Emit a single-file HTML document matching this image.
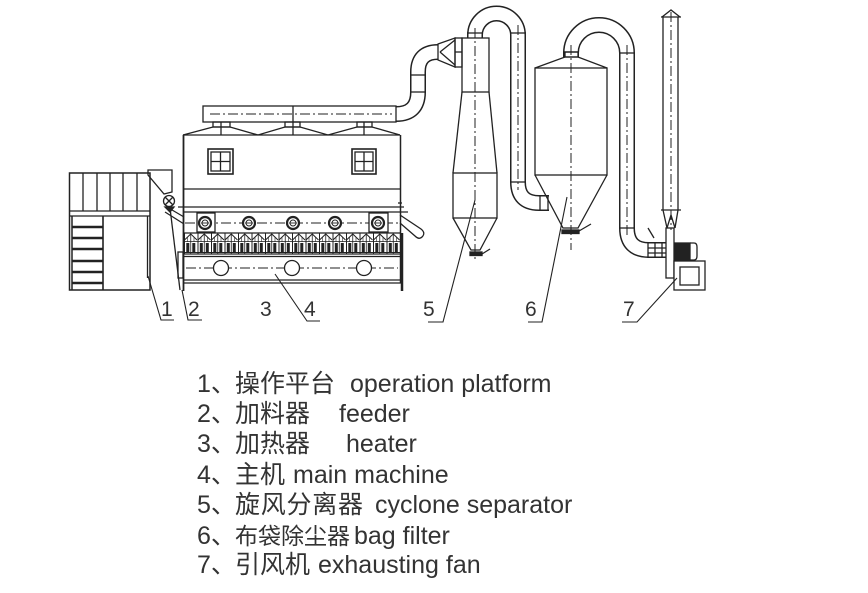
<!DOCTYPE html>
<html><head><meta charset="utf-8">
<style>
html,body{margin:0;padding:0;background:#fff;}
svg{display:block}
</style></head><body>
<svg width="868" height="593" viewBox="0 0 868 593" xmlns="http://www.w3.org/2000/svg">
<defs>
<pattern id="band" patternUnits="userSpaceOnUse" x="184" y="233" width="13.5" height="21">
 <polyline points="0.5,7 6.75,1 13,7" fill="none" stroke="#222" stroke-width="1"/>
 <line x1="0.5" y1="0" x2="0.5" y2="21" stroke="#222" stroke-width="1"/>
 <line x1="6.75" y1="1" x2="6.75" y2="21" stroke="#222" stroke-width="0.8"/>
 <line x1="3.5" y1="4" x2="3.5" y2="9" stroke="#222" stroke-width="0.6"/>
 <line x1="10" y1="4" x2="10" y2="9" stroke="#222" stroke-width="0.6"/>
 <line x1="0" y1="8.5" x2="13.5" y2="8.5" stroke="#222" stroke-width="0.8"/>
 <rect x="2.3" y="10" width="3" height="9" fill="#222"/>
 <rect x="8.3" y="10" width="3" height="9" fill="#222"/>
 <line x1="0" y1="19.5" x2="13.5" y2="19.5" stroke="#222" stroke-width="1"/>
</pattern>
</defs>

<!-- PIPES (double-line trick) -->
<g fill="none" stroke-linecap="butt">
 <path d="M396 114 Q418 114 418 92 L418 72 Q418 52 438 52" stroke="#222" stroke-width="16"/>
 <path d="M396 114 Q418 114 418 92 L418 72 Q418 52 438 52" stroke="#fff" stroke-width="13"/>
 <path d="M475 38 L475 35 A21.5 21.5 0 0 1 518 35 L518 182 Q518 203 539 203 L549 203" stroke="#222" stroke-width="16"/>
 <path d="M475 38 L475 35 A21.5 21.5 0 0 1 518 35 L518 182 Q518 203 539 203 L549 203" stroke="#fff" stroke-width="13"/>
 <path d="M571 57 L571 53 A28 28 0 0 1 627 53 L627 228 Q627 250 649 250 L666 250" stroke="#222" stroke-width="16"/>
 <path d="M571 57 L571 53 A28 28 0 0 1 627 53 L627 228 Q627 250 649 250 L666 250" stroke="#fff" stroke-width="13"/>
</g>

<g fill="none" stroke="#222" stroke-width="1.3">
 <!-- pipe joints -->
 <line x1="410" y1="75" x2="426" y2="75"/>
 <line x1="410" y1="92" x2="426" y2="92"/>
 <line x1="467" y1="33" x2="483" y2="33"/>
 <line x1="510" y1="33" x2="526" y2="33"/>
 <line x1="510" y1="182" x2="526" y2="182"/>
 <line x1="540" y1="195" x2="540" y2="211"/>
 <line x1="548" y1="195" x2="548" y2="211"/>
 <line x1="563" y1="52" x2="579" y2="52"/>
 <line x1="619" y1="53" x2="635" y2="53"/>
 <line x1="619" y1="228" x2="635" y2="228"/>
 <line x1="648" y1="242" x2="648" y2="258"/>
 <line x1="655" y1="242" x2="655" y2="258"/>
 <line x1="662" y1="242" x2="662" y2="258"/>
 <line x1="648" y1="248" x2="666" y2="248"/>
 <line x1="648" y1="253" x2="666" y2="253"/>
 <line x1="648" y1="228" x2="654" y2="238"/>

 <!-- PLATFORM -->
 <rect x="69.5" y="173" width="80.5" height="117" stroke-width="1.5"/>
 <line x1="72" y1="216" x2="72" y2="290" stroke-width="1.5"/>
 <line x1="83" y1="173" x2="83" y2="211"/>
 <line x1="97" y1="173" x2="97" y2="211"/>
 <line x1="110" y1="173" x2="110" y2="211"/>
 <line x1="123" y1="173" x2="123" y2="211"/>
 <line x1="137" y1="173" x2="137" y2="211"/>
 <line x1="69" y1="211" x2="150" y2="211"/>
 <line x1="69" y1="216" x2="150" y2="216"/>
 <line x1="103" y1="216" x2="103" y2="290" stroke-width="1.6"/>
 <g stroke-width="2.6">
  <line x1="72" y1="227" x2="103" y2="227"/>
  <line x1="72" y1="238" x2="103" y2="238"/>
  <line x1="72" y1="249" x2="103" y2="249"/>
  <line x1="72" y1="261" x2="103" y2="261"/>
  <line x1="72" y1="272" x2="103" y2="272"/>
  <line x1="72" y1="283" x2="103" y2="283"/>
 </g>
 <line x1="147.5" y1="216" x2="147.5" y2="278"/>

 <!-- FEEDER -->
 <path d="M148 170 L172 170 L172 192 L164 194 L148 175 Z"/>
 <circle cx="169" cy="201" r="5.5"/>
 <line x1="165" y1="197" x2="173" y2="205"/>
 <line x1="173" y1="197" x2="165" y2="205"/>
 <path d="M165 207 L174 207 L170 212 Z" fill="#222"/>
 <line x1="167" y1="207" x2="184" y2="217"/>
 <line x1="165" y1="212" x2="184" y2="224"/>
 <line x1="170" y1="208" x2="180" y2="290"/>
 <rect x="178" y="252" width="5" height="26"/>

 <!-- MAIN DUCT -->
 <rect x="203" y="106" width="193" height="16" fill="#fff"/>
 <line x1="293" y1="106" x2="293" y2="122"/>
 <line x1="210" y1="114" x2="392" y2="114" stroke-width="1" stroke-dasharray="10 3 2 3"/>
 <!-- connectors and roof -->
 <rect x="213" y="122" width="17" height="5"/>
 <rect x="285" y="122" width="15" height="5"/>
 <rect x="357" y="122" width="15" height="5"/>
 <polyline points="183,135 213,127 230,127 258,135 285,127 300,127 328,135 357,127 372,127 400,135"/>
 <line x1="221" y1="122" x2="221" y2="135"/>
 <line x1="293" y1="122" x2="293" y2="135"/>
 <line x1="364" y1="122" x2="364" y2="135"/>

 <!-- BODY -->
 <line x1="183" y1="135" x2="400" y2="135"/>
 <line x1="183.5" y1="135" x2="183.5" y2="291" stroke-width="1.8"/>
 <line x1="400.5" y1="135" x2="400.5" y2="283" stroke-width="1.5"/>
 <line x1="402" y1="233" x2="402" y2="291" stroke-width="2.5"/>
 <line x1="183" y1="189" x2="400" y2="189"/>
 <line x1="178" y1="207" x2="404" y2="207"/>
 <line x1="183" y1="212" x2="408" y2="212"/>
 <!-- windows -->
 <rect x="208" y="149" width="25" height="25" stroke-width="1.6"/>
 <rect x="211" y="152" width="19" height="19"/>
 <line x1="220.5" y1="152" x2="220.5" y2="171"/>
 <line x1="211" y1="161.5" x2="230" y2="161.5"/>
 <rect x="352" y="149" width="24" height="25" stroke-width="1.6"/>
 <rect x="355" y="152" width="18" height="19"/>
 <line x1="364" y1="152" x2="364" y2="171"/>
 <line x1="355" y1="161.5" x2="373" y2="161.5"/>
 <!-- heater row -->
 <line x1="185" y1="223" x2="398" y2="223" stroke-width="1" stroke-dasharray="10 3 2 3"/>
 <rect x="197" y="213" width="18" height="19" fill="#fff"/>
 <rect x="369" y="213" width="19" height="19" fill="#fff"/>
 <g stroke-width="2.2">
  <circle cx="205" cy="223" r="6" fill="#fff"/>
  <circle cx="249" cy="223" r="6" fill="#fff"/>
  <circle cx="293" cy="223" r="6" fill="#fff"/>
  <circle cx="335" cy="223" r="6" fill="#fff"/>
  <circle cx="378" cy="223" r="6" fill="#fff"/>
 </g>
 <g stroke-width="0.9">
  <circle cx="205" cy="223" r="3"/><circle cx="249" cy="223" r="3"/><circle cx="293" cy="223" r="3"/><circle cx="335" cy="223" r="3"/><circle cx="378" cy="223" r="3"/>
  <line x1="201" y1="223" x2="209" y2="223"/><line x1="245" y1="223" x2="253" y2="223"/><line x1="289" y1="223" x2="297" y2="223"/><line x1="331" y1="223" x2="339" y2="223"/><line x1="374" y1="223" x2="382" y2="223"/>
 </g>
 <!-- band -->
 <rect x="184" y="233" width="216" height="21" fill="url(#band)" stroke="none"/>
 <line x1="183" y1="233" x2="401" y2="233"/>
 <line x1="183" y1="254" x2="401" y2="254"/>
 <line x1="183" y1="256.5" x2="401" y2="256.5"/>
 <!-- lower -->
 <line x1="186" y1="268" x2="398" y2="268" stroke-width="1" stroke-dasharray="10 3 2 3"/>
 <circle cx="221" cy="268" r="7.5" fill="#fff"/>
 <circle cx="292" cy="268" r="7.5" fill="#fff"/>
 <circle cx="364" cy="268" r="7.5" fill="#fff"/>
 <line x1="183" y1="280" x2="401" y2="280"/>
 <line x1="183" y1="283" x2="401" y2="283"/>
 <!-- right chute -->
 <path d="M400 215 L421 229 Q426 233 422 237 Q419 240 415 236 L400 223"/>
 <line x1="398" y1="203" x2="402" y2="203"/>

 <!-- CYCLONE -->
 <path d="M438 44 L455 38 L455 67 L438 60 Z" fill="#fff"/>
 <line x1="440" y1="52" x2="455" y2="40"/>
 <line x1="440" y1="52" x2="455" y2="65"/>
 <rect x="455" y="38" width="7" height="29"/>
 <line x1="455" y1="52" x2="462" y2="52"/>
 <rect x="462" y="38" width="27" height="54"/>
 <line x1="462" y1="92" x2="453" y2="173"/>
 <line x1="489" y1="92" x2="497" y2="173"/>
 <rect x="453" y="173" width="44" height="45"/>
 <polyline points="453,218 471,250 480,250 497,218"/>
 <rect x="470" y="252" width="12" height="3.5" fill="#222"/>
 <line x1="482" y1="254" x2="490" y2="249"/>
 <line x1="475" y1="28" x2="475" y2="262" stroke-width="1" stroke-dasharray="10 3 2 3"/>
 <line x1="518" y1="25" x2="518" y2="190" stroke-width="1" stroke-dasharray="10 3 2 3"/>

 <!-- BAG FILTER -->
 <rect x="565" y="52" width="13" height="5"/>
 <polyline points="535,68 565,57 578,57 607,68"/>
 <rect x="535" y="68" width="72" height="107" fill="#fff"/>
 <polyline points="535,175 563,228 578,228 607,175"/>
 <rect x="562" y="230" width="17" height="3.5" fill="#222"/>
 <line x1="579" y1="231" x2="591" y2="224"/>
 <line x1="571" y1="45" x2="571" y2="250" stroke-width="1" stroke-dasharray="10 3 2 3"/>
 <line x1="627" y1="45" x2="627" y2="235" stroke-width="1" stroke-dasharray="10 3 2 3"/>

 <!-- FAN / STACK -->
 <line x1="663" y1="17" x2="663" y2="210"/>
 <line x1="678" y1="17" x2="678" y2="210"/>
 <polyline points="662,17 671,10 680,17"/>
 <line x1="661" y1="17" x2="681" y2="17"/>
 <line x1="661" y1="210" x2="681" y2="210"/>
 <line x1="663" y1="210" x2="667" y2="228"/>
 <line x1="678" y1="210" x2="675" y2="228"/>
 <polyline points="667,228 671,215 675,228"/>
 <line x1="671" y1="12" x2="671" y2="230" stroke-width="1" stroke-dasharray="10 3 2 3"/>
 <rect x="666" y="228" width="8" height="50"/>
 <rect x="675" y="243" width="15" height="17" fill="#222"/>
 <path d="M690 243 L694 243 Q697 243 697 247 L697 256 Q697 260 694 260 L690 260"/>
 <rect x="674" y="261" width="31" height="29" fill="#fff"/>
 <rect x="680" y="267" width="19" height="18"/>

 <!-- LEADERS -->
 <g stroke-width="1.1">
  <polyline points="148,276 161,320 174,320"/>
  <polyline points="182,290 188,320 202,320"/>
  <polyline points="275,274 307,321 320,321"/>
  <polyline points="475,200 443,322 428,322"/>
  <polyline points="567,197 542,322 528,322"/>
  <polyline points="677,278 637,322 622,322"/>
 </g>
</g>

<!-- number labels -->
<g font-family="'Liberation Sans', sans-serif" font-size="21" fill="#333">
 <text x="161" y="316">1</text>
 <text x="188" y="316">2</text>
 <text x="260" y="316">3</text>
 <text x="304" y="316">4</text>
 <text x="423" y="316">5</text>
 <text x="525" y="316">6</text>
 <text x="623" y="316">7</text>
</g>

<!-- legend -->
<g font-family="'Liberation Sans', 'Noto Sans CJK SC', sans-serif" font-size="25" fill="#333">
 <text x="197" y="392">1、</text>
 <text x="235" y="392" textLength="100" lengthAdjust="spacing">操作平台</text>
 <text x="350" y="392">operation platform</text>

 <text x="197" y="422">2、</text>
 <text x="235" y="422" textLength="75" lengthAdjust="spacing">加料器</text>
 <text x="339" y="422">feeder</text>

 <text x="197" y="452">3、</text>
 <text x="235" y="452" textLength="75" lengthAdjust="spacing">加热器</text>
 <text x="346" y="452">heater</text>

 <text x="197" y="483">4、</text>
 <text x="235" y="483" textLength="50" lengthAdjust="spacing">主机</text>
 <text x="293" y="483">main machine</text>

 <text x="197" y="513">5、</text>
 <text x="235" y="513" textLength="128" lengthAdjust="spacing">旋风分离器</text>
 <text x="375" y="513">cyclone separator</text>

 <text x="197" y="544">6、</text>
 <text x="235" y="544" font-size="23">布袋除尘器</text>
 <text x="354" y="544">bag filter</text>

 <text x="197" y="573">7、</text>
 <text x="235" y="573" textLength="75" lengthAdjust="spacing">引风机</text>
 <text x="318" y="573">exhausting fan</text>
</g>
</svg>
</body></html>
